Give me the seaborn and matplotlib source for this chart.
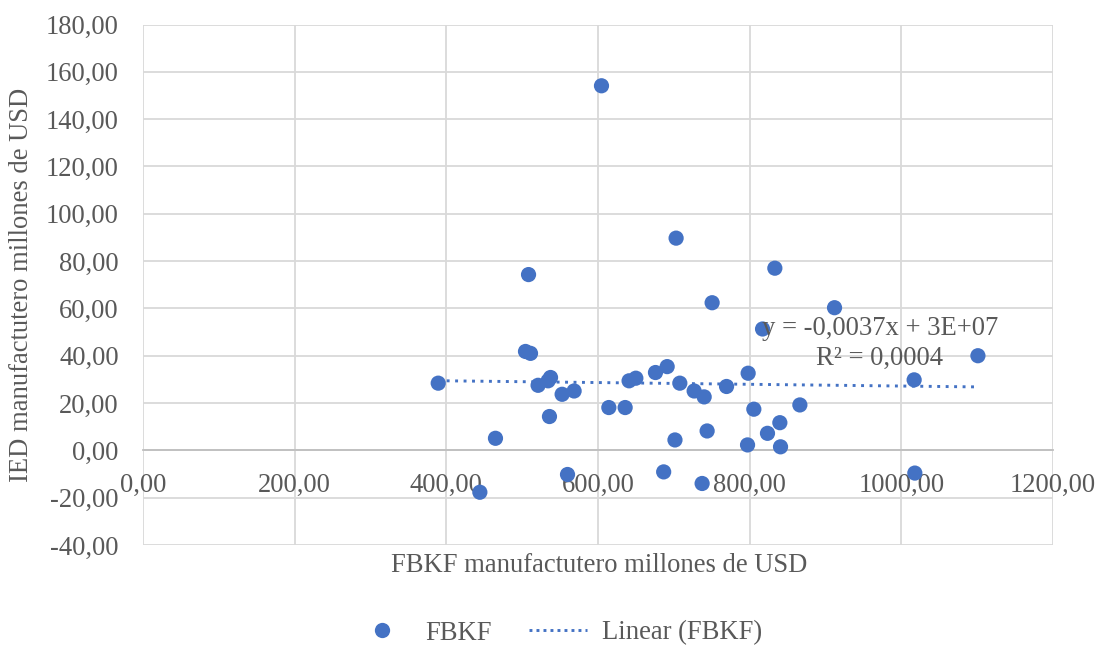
import numpy as np
import pandas as pd
import matplotlib
matplotlib.use("Agg")
import matplotlib.pyplot as plt
from matplotlib.ticker import FuncFormatter, FixedLocator
from matplotlib.lines import Line2D
import seaborn as sns

# ---- data ----
fbkf = [389.3, 444.2, 464.8, 504.4, 511.0, 508.4, 521.0, 534.2, 537.4, 536.0,
        552.7, 568.5, 559.8, 604.6, 614.3, 635.8, 641.0, 649.9, 675.8, 691.2,
        686.6, 701.5, 703.0, 707.9, 726.8, 740.0, 743.9, 737.3, 750.5, 769.5,
        798.0, 797.2, 805.5, 817.0, 823.5, 833.2, 839.8, 840.7, 866.2, 911.9,
        1016.9, 1017.8, 1101.0]
ied = [28.4, -17.7, 5.1, 41.8, 41.0, 74.3, 27.5, 29.4, 30.8, 14.3,
       23.7, 25.1, -10.2, 154.1, 18.1, 18.1, 29.4, 30.5, 32.9, 35.4,
       -9.1, 4.4, 89.7, 28.4, 25.1, 22.6, 8.2, -14.0, 62.4, 27.0,
       32.6, 2.3, 17.4, 51.3, 7.2, 77.0, 11.7, 1.5, 19.2, 60.3,
       29.8, -9.6, 40.0]
x_ticks = [0, 200, 400, 600, 800, 1000, 1200]
y_ticks = [-40, -20, 0, 20, 40, 60, 80, 100, 120, 140, 160, 180]
series_name = "FBKF"
trend_name = "Linear (FBKF)"
eq_text = "y = -0,0037x + 3E+07\nR\u00b2 = 0,0004"
x_label = "FBKF manufactutero millones de USD"
y_label = "IED manufactutero millones de USD"

df = pd.DataFrame({"FBKF": fbkf, "IED": ied})

sns.set_theme(style="white")
plt.rcParams["font.family"] = ["Liberation Serif", "DejaVu Serif"]

BLUE = "#4472C4"
GRID = "#D9D9D9"
TXT = "#595959"
FS = 19.2
FS_LEG = 19.2

fig = plt.figure(figsize=(10.99, 6.45), dpi=100)
ax = fig.add_axes([143 / 1099, 100 / 645, 910 / 1099, 520.5 / 645])

sns.regplot(data=df, x="FBKF", y="IED", ax=ax, ci=None, scatter=False,
            line_kws=dict(color=BLUE, lw=2.1, linestyle=(0, (1, 1.9)),
                          dash_capstyle="butt", zorder=3))
sns.scatterplot(data=df, x="FBKF", y="IED", ax=ax, color=BLUE, s=120,
                edgecolor="none", zorder=4, legend=False)

ax.set_xlim(x_ticks[0], x_ticks[-1])
ax.set_ylim(y_ticks[0], y_ticks[-1])
ax.xaxis.set_major_locator(FixedLocator(x_ticks))
ax.yaxis.set_major_locator(FixedLocator(y_ticks))
fmt = FuncFormatter(lambda v, p: f"{v:.2f}".replace(".", ","))
ax.xaxis.set_major_formatter(fmt)
ax.yaxis.set_major_formatter(fmt)

ax.grid(True, color=GRID, lw=1.3, zorder=0)
ax.set_axisbelow(True)
for s in ["top", "right", "left"]:
    ax.spines[s].set_visible(False)
ax.spines["bottom"].set_position(("data", 0))
ax.spines["bottom"].set_color("#BFBFBF")
ax.spines["bottom"].set_linewidth(1.3)
ax.spines["bottom"].set_zorder(1)

ax.tick_params(axis="both", length=0, labelsize=FS, labelcolor=TXT)
ax.tick_params(axis="x", pad=16.5)
ax.tick_params(axis="y", pad=17.5)

ax.set_xlabel("")
ax.set_ylabel("")
fig.text(599 / 1099, 1 - 565 / 645, x_label, ha="center", va="center",
         fontsize=FS, color=TXT)
fig.text(22 / 1099, 1 - 285 / 645, y_label, ha="center", va="center",
         rotation=90, fontsize=FS, color=TXT)

ax.text(971.6, 45.3, eq_text, ha="center", va="center", fontsize=FS,
        color=TXT, linespacing=1.24, zorder=5)

handles = [
    Line2D([], [], marker="o", linestyle="none", color=BLUE, markersize=11,
           markeredgewidth=0),
    Line2D([], [], color=BLUE, lw=2.1, linestyle=(0, (1, 1.4))),
]
fig.legend(handles, [series_name, trend_name], loc="center",
           bbox_to_anchor=(557.5 / 1099, 1 - 633 / 645), ncol=2, frameon=False,
           fontsize=FS_LEG, labelcolor=TXT, handlelength=2.17,
           columnspacing=1.39, handletextpad=0.56, borderpad=0.0,
           borderaxespad=0.0)

fig.savefig("out.png", dpi=100)
